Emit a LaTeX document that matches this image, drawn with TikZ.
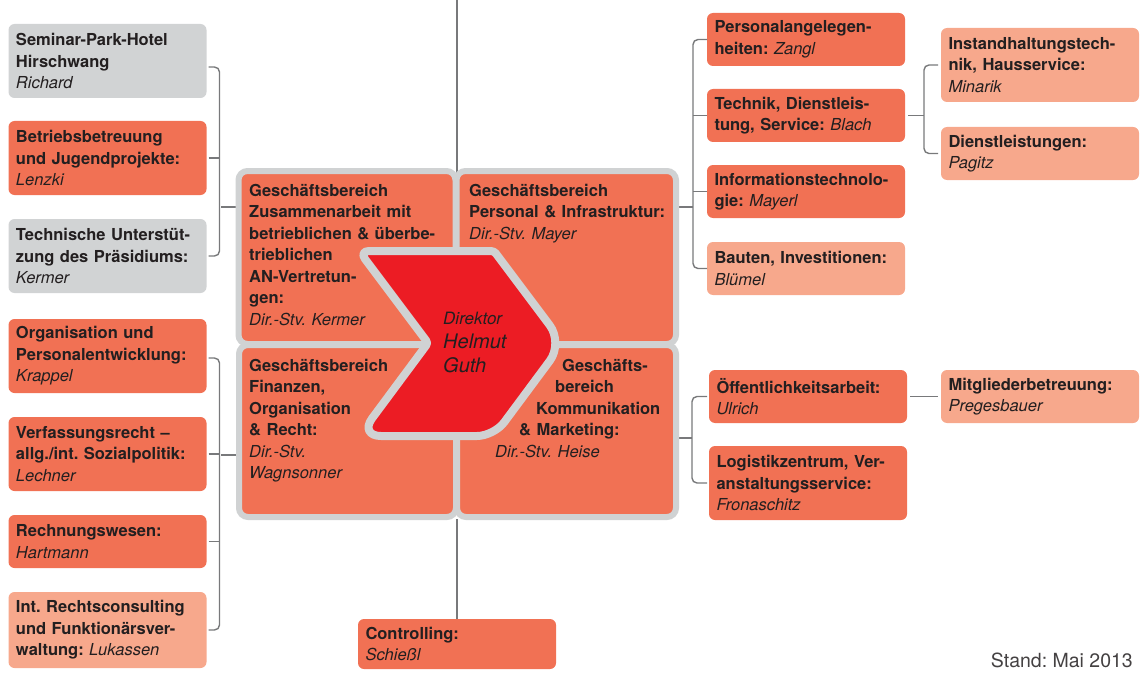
\documentclass[tikz,border=0pt]{standalone}
\usepackage{fontspec}
\setmainfont{TeX Gyre Heros}
\usetikzlibrary{positioning}
\frenchspacing

\definecolor{orgorange}{RGB}{241,113,84}
\definecolor{orglight}{RGB}{247,168,140}
\definecolor{orggrey}{RGB}{209,211,212}
\definecolor{framegrey}{RGB}{208,210,211}
\definecolor{chevred}{RGB}{236,28,36}
\definecolor{linegrey}{RGB}{120,121,123}
\definecolor{textdark}{RGB}{35,31,32}

\newcommand\boxfont{\fontsize{16.5}{21.5}\selectfont\bfseries}
\newcommand\pname[1]{{\mdseries\itshape #1}}

\tikzset{
  unit/.style={rounded corners=6pt, text width=183pt, inner xsep=7.5pt, inner ysep=0pt,
    outer sep=0pt, align=left, anchor=north west, font=\boxfont, text=textdark},
  dark/.style={unit, fill=orgorange},
  pale/.style={unit, fill=orglight},
  grey/.style={unit, fill=orggrey},
  tall/.style={minimum height=74pt},
  flat/.style={minimum height=53pt},
  quad/.style={fill=orgorange, draw=framegrey, line width=6pt, rounded corners=9pt,
    inner sep=0pt, outer sep=0pt, anchor=north west},
  quadtext/.style={anchor=north west, inner sep=0pt, text width=210pt, align=left,
    font=\boxfont, text=textdark},
  bracket/.style={draw=linegrey, line width=1.4pt, rounded corners=5pt},
  stem/.style={draw=linegrey, line width=1.4pt},
  chevron/.style={fill=chevred, draw=framegrey, line width=8pt, line join=round}
}

\begin{document}
\begin{tikzpicture}[x=1pt, y=-1pt]
  \useasboundingbox (0,0) rectangle (1143,674);

  % linke Spalte
  \node[grey, tall] (semi) at (8.5,24) {Seminar-Park-Hotel\\Hirschwang\\\pname{Richard}};
  \node[dark, tall] (betr) at (8.5,121) {Betriebsbetreuung\\und Jugendprojekte:\\\pname{Lenzki}};
  \node[grey, tall] (tech) at (8.5,219) {Technische Unterstüt-\\zung des Präsidiums:\\\pname{Kermer}};
  \node[dark, tall] (orga) at (8.5,319) {Organisation und\\Personalentwicklung:\\\pname{Krappel}};
  \node[dark, tall] (verf) at (8.5,417) {Verfassungsrecht –\\allg./int. Sozialpolitik:\\\pname{Lechner}};
  \node[dark, flat] (rech) at (8.5,515) {Rechnungswesen:\\\pname{Hartmann}};
  \node[pale, minimum height=76pt] (rcon) at (8.5,592) {Int. Rechtsconsulting\\und Funktionärsver-\\waltung: \pname{Lukassen}};

  % rechte Spalten
  \node[dark, flat] (pers) at (707,13) {Personalangelegen-\\heiten: \pname{Zangl}};
  \node[dark, flat] (tdl) at (707,89) {Technik, Dienstleis-\\tung, Service: \pname{Blach}};
  \node[dark, flat] (itec) at (707,165) {Informationstechnolo-\\gie: \pname{Mayerl}};
  \node[pale, flat] (baut) at (707,242) {Bauten, Investitionen:\\\pname{Blümel}};
  \node[pale, tall] (inst) at (941,28) {Instandhaltungstech-\\nik, Hausservice:\\\pname{Minarik}};
  \node[pale, flat] (dien) at (941,127) {Dienstleistungen:\\\pname{Pagitz}};
  \node[dark, flat] (oeff) at (709,370) {Öffentlichkeitsarbeit:\\\pname{Ulrich}};
  \node[dark, tall] (logi) at (709,446) {Logistikzentrum, Ver-\\anstaltungsservice:\\\pname{Fronaschitz}};
  \node[pale, flat] (mitg) at (941,370) {Mitgliederbetreuung:\\\pname{Pregesbauer}};

  % unten
  \node[dark, minimum height=50pt] (ctrl) at (358,619) {Controlling:\\\pname{Schießl}};

  % Klammern links
  \coordinate (ljoin1) at (221,207);
  \coordinate (ljoin2) at (221,455);
  \draw[bracket] ([xshift=2pt,yshift=-6pt]semi.east) -- ++(11,0) |- ([xshift=2pt]tech.east);
  \draw[bracket] ([xshift=2pt]betr.east) -- ++(11,0);
  \draw[bracket] ([xshift=2pt,yshift=-2pt]orga.east) -- ++(11,0) |- ([xshift=2pt]rcon.east);
  \draw[bracket] ([xshift=2pt]verf.east) -- ++(11,0);
  \draw[bracket] ([xshift=2pt]rech.east) -- ++(11,0);

  % Klammern rechts
  \coordinate (rjoin1) at (693,207);
  \coordinate (rjoin2) at (692,438);
  \draw[bracket] (pers.west) -- ++(-14,0) |- (baut.west);
  \draw[bracket] (tdl.west) -- ++(-14,0);
  \draw[bracket] (itec.west) -- ++(-14,0);
  \draw[bracket] ([xshift=-3pt]inst.west) -- ++(-14,0) |- ([xshift=-3pt]dien.west);
  \draw[bracket] ([xshift=3pt]tdl.east) -- ([xshift=-17pt]inst.west |- tdl.east);
  \draw[bracket] ([xshift=-2pt]oeff.west) -- ++(-15,0) |- ([xshift=-2pt]logi.west);
  \draw[bracket] ([xshift=3pt]oeff.east) -- ([xshift=-3pt]mitg.west);

  % Geschaeftsbereiche
  \coordinate (topend) at (457,0);
  \draw[stem] (topend) -- (457,175);
  \draw[stem] (ctrl.north) -- ++(0,-100);
  \draw[bracket] (ljoin1) -- ++(20,0);
  \draw[bracket] (ljoin2) -- ++(20,0);
  \draw[bracket] (rjoin1) -- ++(-20,0);
  \draw[bracket] (rjoin2) -- ++(-20,0);

  \node[quad, minimum width=217pt, minimum height=173pt] (gzus) at (238.5,171) {};
  \node[quad, minimum width=219.5pt, minimum height=173pt] (gper) at (456.5,171) {};
  \node[quad, minimum width=217pt, minimum height=172pt] (gfin) at (239,345) {};
  \node[quad, minimum width=219pt, minimum height=172pt] (gkom) at (457,345) {};

  \node[quadtext] (tzus) at (249,184) {Geschäftsbereich\\Zusammenarbeit mit\\betrieblichen \& überbe-\\trieblichen\\AN-Vertretun-\\gen:\\\pname{Dir.-Stv. Kermer}};
  \node[quadtext] (tper) at (469,184) {Geschäftsbereich\\Personal \& Infrastruktur:\\\pname{Dir.-Stv. Mayer}};
  \node[quadtext] (tfin) at (249,359) {Geschäftsbereich\\Finanzen,\\Organisation\\\& Recht:\\\pname{Dir.-Stv.}\\\pname{Wagnsonner}};
  \node[quadtext] (tkom) at (495,359) {\hspace*{67pt}Geschäfts-\\\hspace*{60pt}bereich\\\hspace*{41pt}Kommunikation\\\hspace*{24pt}\& Marketing:\\\pname{Dir.-Stv. Heise}};

  % Direktor
  \draw[chevron] (359,251) [rounded corners=3pt] -- (494,251) [rounded corners=22pt]
    -- (563,343) [rounded corners=17pt] -- (494,436) [rounded corners=22pt]
    -- (359,436) [rounded corners=3pt] -- (428,343) [rounded corners=10pt] -- cycle;
  \node[anchor=north west, inner sep=0pt, align=left, text=textdark,
    font=\fontsize{20}{24}\selectfont\itshape] (dir) at (443,312)
    {{\fontsize{17}{24}\selectfont Direktor}\\Helmut\\Guth};

  \node[anchor=base east, inner sep=0pt, text=textdark!85,
    font=\fontsize{19.5}{22}\selectfont] (stand) at (1133,667) {Stand: Mai 2013};
\end{tikzpicture}
\end{document}
